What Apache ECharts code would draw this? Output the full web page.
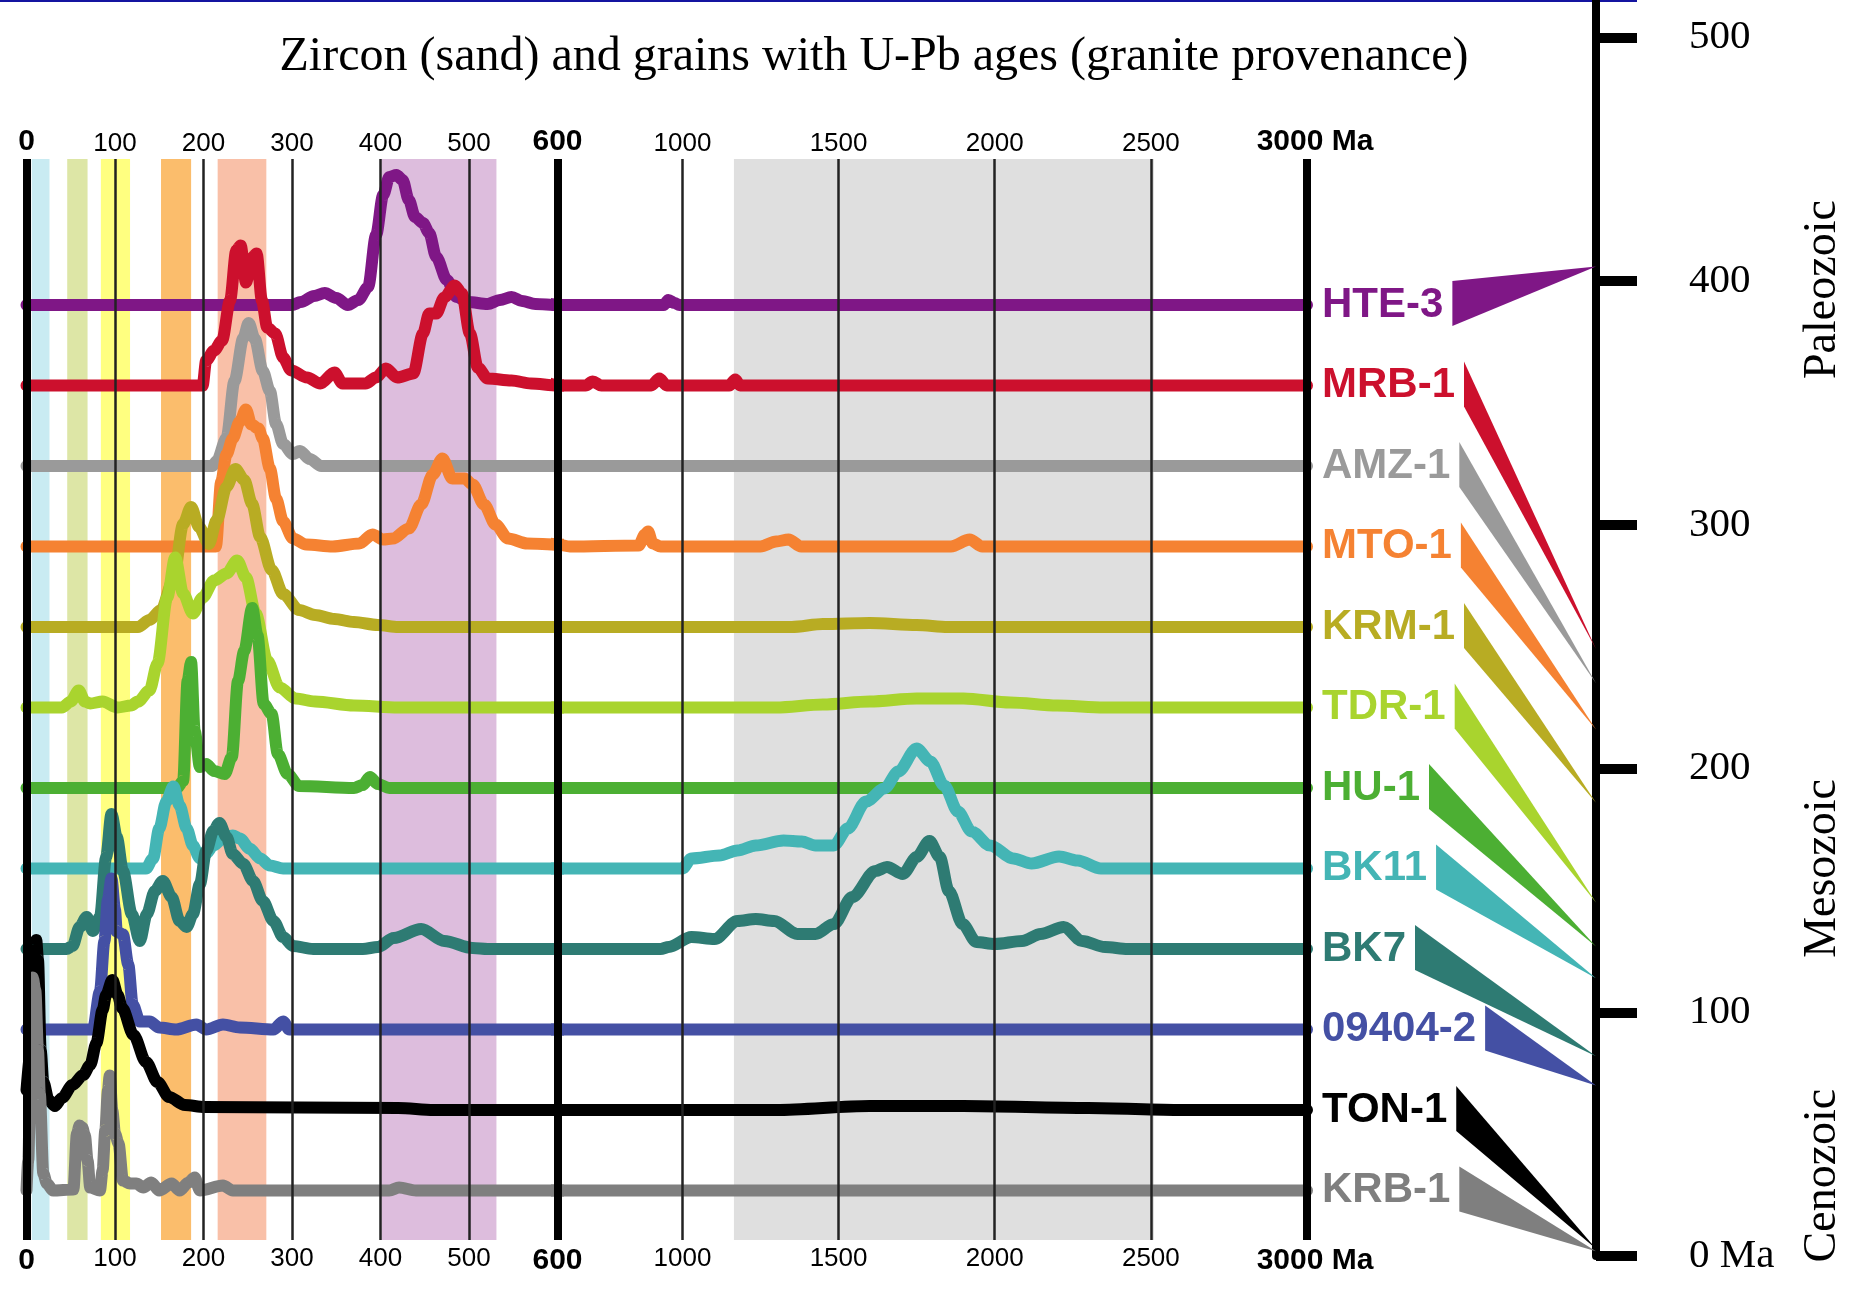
<!DOCTYPE html>
<html><head><meta charset="utf-8">
<script src="https://cdn.jsdelivr.net/npm/echarts@6/dist/echarts.min.js"></script>
<style>html,body{margin:0;padding:0;background:#fff}#c{width:1865px;height:1289px}</style>
</head><body><div id="c"></div>
<script>
// ---------------- DATA ----------------
const TITLE = 'Zircon (sand) and grains with U-Pb ages (granite provenance)';
const SAMPLES = ['HTE-3','MRB-1','AMZ-1','MTO-1','KRM-1','TDR-1','HU-1','BK11','BK7','09404-2','TON-1','KRB-1'];
const COLORS = ['#7f1786','#cc102d','#9a9a9a','#f58232','#b8ac23','#a9d42e','#4caf33','#44b5b5','#2e7b73','#4450a4','#000000','#7f7f7f'];
// youngest (maximum depositional) age each wedge points to, Ma
const MAX_DEP_AGE = [406,249,235,216,186,145,127,114,82,70,3,2];
// age-probability curves: [age Ma, relative height]
const HTE_3 = [[0,0],[300,0],[310,3],[325,9],[337,12],[350,7],[363,0],[375,5],[386,18],[395,70],[403,110],[410,128],[418,130],[425,125],[432,105],[439,88],[448,82],[455,72],[463,48],[475,25],[486,8],[499,3],[521,1],[535,5],[548,8],[560,4],[575,1],[600,0],[940,0],[955,5],[975,2],[990,0],[3000,0]];
const MRB_1 = [[0,0],[199,0],[203,25],[212,35],[221,45],[230,85],[237,135],[242,140],[248,103],[255,128],[260,132],[266,85],[272,58],[281,52],[290,28],[299,15],[317,8],[332,2],[348,13],[357,2],[383,2],[395,8],[406,17],[419,8],[437,12],[448,52],[455,72],[463,72],[472,88],[484,100],[492,92],[501,52],[510,18],[521,7],[548,5],[570,2],[600,0],[690,0],[713,4],[740,0],[900,0],[926,7],[950,0],[1150,0],[1169,6],[1185,0],[3000,0]];
const AMZ_1 = [[0,0],[210,0],[215,5],[226,28],[235,85],[245,128],[251,143],[258,127],[267,95],[275,75],[282,42],[290,22],[301,12],[309,15],[320,7],[333,0],[3000,0]];
const MTO_1 = [[0,0],[214,0],[220,65],[226,92],[233,108],[241,125],[248,137],[254,122],[262,118],[267,108],[275,78],[282,48],[290,25],[301,8],[316,2],[346,0],[376,3],[391,12],[403,7],[414,8],[432,18],[446,42],[459,72],[470,88],[481,68],[495,68],[504,62],[517,42],[530,22],[544,8],[566,3],[600,2],[640,0],[860,1],[880,12],[890,15],[905,3],[930,0],[1250,0],[1300,5],[1340,7],[1380,0],[1860,0],[1920,7],[1960,0],[3000,0]];
const KRM_1 = [[0,0],[126,0],[139,7],[152,17],[166,47],[177,103],[186,120],[195,100],[206,83],[215,107],[226,140],[236,158],[246,147],[255,123],[264,90],[277,57],[290,33],[308,17],[326,12],[348,8],[370,5],[397,2],[420,0],[1350,0],[1450,3],[1600,4],[1750,2],[1850,0],[3000,0]];
const TDR_1 = [[0,0],[40,0],[50,6],[59,17],[66,6],[72,4],[86,6],[103,0],[118,2],[126,6],[139,17],[148,44],[159,110],[168,150],[177,114],[188,94],[199,110],[212,127],[226,134],[238,147],[248,130],[259,94],[272,47],[286,20],[304,9],[326,6],[370,2],[420,0],[1300,0],[1450,3],[1600,6],[1750,9],[1900,9],[2050,5],[2200,2],[2350,0],[3000,0]];
const HU_1 = [[0,0],[170,0],[177,7],[182,107],[186,126],[190,57],[196,21],[203,24],[212,17],[224,14],[232,31],[239,107],[246,137],[255,180],[261,153],[268,84],[277,74],[284,34],[295,14],[308,2],[370,0],[380,3],[388,11],[397,4],[410,0],[3000,0]];
const BK11 = [[0,0],[135,0],[143,10],[150,40],[158,67],[166,82],[173,63],[181,40],[188,23],[196,10],[203,15],[211,23],[222,30],[233,33],[241,30],[252,20],[264,10],[275,3],[290,0],[1000,0],[1029,10],[1118,13],[1176,18],[1235,23],[1324,28],[1382,27],[1426,23],[1485,23],[1529,40],[1588,67],[1647,80],[1691,97],[1750,120],[1794,107],[1838,83],[1882,57],[1926,37],[1985,23],[2059,10],[2118,5],[2206,12],[2265,8],[2340,0],[3000,0]];
const BK7 = [[0,0],[45,0],[52,3],[60,22],[68,32],[75,18],[83,32],[90,92],[96,135],[102,112],[109,78],[119,35],[128,8],[136,35],[145,58],[154,68],[164,52],[173,28],[181,22],[188,35],[196,65],[203,98],[211,118],[218,126],[226,112],[233,95],[245,85],[256,68],[267,48],[279,28],[290,12],[301,3],[324,0],[380,0],[397,2],[415,11],[446,20],[472,8],[504,1],[521,0],[930,0],[956,2],[1029,12],[1103,10],[1176,28],[1235,30],[1294,28],[1368,15],[1426,15],[1485,25],[1544,52],[1618,78],[1655,82],[1706,75],[1750,92],[1791,108],[1824,92],[1853,58],[1897,25],[1941,7],[2000,5],[2088,8],[2147,15],[2221,22],[2280,8],[2353,2],[2426,0],[3000,0]];
const S_09404_2 = [[0,0],[75,0],[83,38],[88,88],[92,130],[96,151],[100,120],[102,98],[109,95],[115,65],[120,25],[128,8],[139,8],[150,2],[169,0],[192,5],[203,0],[222,5],[241,2],[279,0],[290,8],[297,0],[3000,0]];
const TON_1 = [[0,20],[5,60],[9,160],[11,170],[13,150],[16,60],[19,28],[25,10],[32,4],[40,12],[52,25],[64,35],[72,45],[79,67],[86,100],[90,115],[97,130],[103,115],[108,102],[121,75],[135,48],[148,28],[161,13],[179,5],[201,3],[420,2],[460,0],[1300,0],[1600,4],[1900,4],[2300,2],[2600,0],[3000,0]];
const KRB_1 = [[0,0],[2,30],[5,150],[7,213],[10,200],[13,140],[15,97],[19,17],[23,7],[30,0],[53,1],[57,57],[60,65],[63,63],[66,55],[69,30],[72,3],[83,0],[86,20],[89,60],[92,100],[94,115],[97,80],[100,57],[104,47],[109,10],[117,7],[124,7],[132,3],[141,8],[150,0],[164,7],[173,0],[183,8],[190,13],[196,0],[222,5],[233,0],[410,0],[421,3],[440,0],[3000,0]];
const CURVES = [HTE_3, MRB_1, AMZ_1, MTO_1, KRM_1, TDR_1, HU_1, BK11, BK7, S_09404_2, TON_1, KRB_1];
const STACK_STEP = 80.5;
// highlighted age bands (Ma)
const BAND_START = [6, 46, 84, 152, 216, 401, 1165];
const BAND_END   = [26, 69, 117, 186, 271, 531, 2510];
const BAND_COLOR = ['#c9ebf2','#dde6a6','#ffff80','#fbbd6c','#f9c0a8','#ddbddd','#dfdfdf'];
const GRID_LINES = [0,100,200,300,400,500,600,1000,1500,2000,2500,3000];
const MAJOR_LINES = [0,600,3000];
const AXIS_BREAK = 600;
const AGE_MAX = 3000;
const ERA_NAMES = ['Cenozoic','Mesozoic','Paleozoic'];
const ERA_START = [0,66,252];
const ERA_END = [66,252,541];

// ---------------- CHART ----------------
const chart = echarts.init(document.getElementById('c'), null, {renderer:'canvas', width:1865, height:1289});
const SANS = '"Liberation Sans", Arial, sans-serif';
const SERIF = '"Liberation Serif", "Times New Roman", serif';
const N = SAMPLES.length;
const Y_MIN = -49.5, Y_MAX = 1031.5;
const LABEL_DIST = 15, LABEL_SIZE = 42, WEDGE_GAP = 9, WEDGE_UP = 24, WEDGE_DOWN = 21;

function tickFmt(v){
  if (v === 0 || v === AXIS_BREAK) return '{b|' + v + '}';
  if (v === AGE_MAX) return '{m|' + v + ' Ma}';
  if (v > AXIS_BREAK && v % 500 !== 0) return '';
  return String(v);
}
const richLbl = {
  b: {fontFamily: SANS, fontWeight: 'bold', fontSize: 30, color: '#000'},
  m: {fontFamily: SANS, fontWeight: 'bold', fontSize: 30, color: '#000', padding: [0,0,0,16]}
};
function xAx(grid, pos, min, max, fmt){
  return {type:'value', gridIndex: grid, position: pos, min: min, max: max, interval: 100,
    axisLine:{show:false}, axisTick:{show:false}, splitLine:{show:false},
    axisLabel:{show:true, interval:0, hideOverlap:false, margin: pos==='top'?2:6, fontFamily: SANS, fontSize: 26, color:'#000', formatter: fmt, rich: richLbl}};
}
const fmtA = v => tickFmt(v);
const fmtB = v => (v === AXIS_BREAK ? '' : tickFmt(v));

const series = [];
// background age bands
function bandData(lo, hi){
  const out = [];
  for (let i = 0; i < BAND_START.length; i++){
    if (BAND_START[i] >= lo && BAND_END[i] <= hi) out.push([{xAxis: BAND_START[i], itemStyle:{color: BAND_COLOR[i], opacity: 1}}, {xAxis: BAND_END[i]}]);
  }
  return out;
}
function lineData(lo, hi){
  return GRID_LINES.filter(v => v >= lo && v <= hi && !(lo === AXIS_BREAK && v === AXIS_BREAK)).map(v => ({
    xAxis: v,
    lineStyle: {type:'solid', width: MAJOR_LINES.includes(v) ? 8 : 2.5, color: MAJOR_LINES.includes(v) ? '#000' : '#222'}
  }));
}
[[0,1,0,0,AXIS_BREAK],[1,3,1,AXIS_BREAK,AGE_MAX]].forEach(([g, xi, yi, lo, hi]) => {
  series.push({type:'line', xAxisIndex: xi, yAxisIndex: yi, data: [], silent: true, z: 0, clip: false,
    markArea: {silent: true, data: bandData(lo, hi)}});
  series.push({type:'line', xAxisIndex: xi, yAxisIndex: yi, data: [], silent: true, z: 1, clip: false,
    markLine: {silent: true, symbol: ['none','none'], label:{show:false}, data: lineData(lo, hi)}});
});
// curves (top sample first so lower ones draw above)
for (let i = 0; i < N; i++){
  const data = CURVES[i].map(p => [p[0], (N - 1 - i) * STACK_STEP + p[1]]);
  [[1,0],[3,1]].forEach(([xi, yi], k) => {
    const s = {type:'line', name: SAMPLES[i], xAxisIndex: xi, yAxisIndex: yi, data: data, z: 3 + i * 0.01,
      showSymbol: false, symbol: 'none', smooth: 0.3, smoothMonotone: 'x', clip: true, silent: true,
      lineStyle: {color: COLORS[i], width: 12, cap: 'round', join: 'round'}};
    if (k === 1) s.endLabel = {show: true, distance: LABEL_DIST, formatter: p => p.seriesName,
      color: COLORS[i], fontFamily: SANS, fontWeight: 'bold', fontSize: LABEL_SIZE};
    series.push(s);
  });
}
// era names beside the time scale
series.push({type:'custom', xAxisIndex: 4, yAxisIndex: 2, silent: true, z: 5,
  data: ERA_NAMES.map((n, i) => [ERA_START[i], ERA_END[i], n]),
  renderItem: (params, api) => {
    const a = api.value(0), b = api.value(1);
    const p = api.coord([0, (a + b) / 2]);
    return {type:'text', x: p[0] + 227, y: p[1], rotation: Math.PI / 2,
      style: {text: ERA_NAMES[params.dataIndex], fontFamily: SERIF, fontSize: 46, fill: '#000', align: 'center', verticalAlign: 'middle'}};
  }});

const option = {
  animation: false,
  backgroundColor: '#fff',
  grid: [
    {left: 26.5, top: 159, width: 531, height: 1081},
    {left: 557.5, top: 159, width: 749.5, height: 1081},
    {left: 1596, top: 0, width: 200, height: 1256}
  ],
  xAxis: [
    xAx(0, 'top', 0, AXIS_BREAK, fmtA), xAx(0, 'bottom', 0, AXIS_BREAK, fmtA),
    xAx(1, 'top', AXIS_BREAK, AGE_MAX, fmtB), xAx(1, 'bottom', AXIS_BREAK, AGE_MAX, fmtB),
    {type:'value', gridIndex: 2, min: 0, max: 1, show: false}
  ],
  yAxis: [
    {type:'value', gridIndex: 0, min: Y_MIN, max: Y_MAX, show: false},
    {type:'value', gridIndex: 1, min: Y_MIN, max: Y_MAX, show: false},
    {type:'value', gridIndex: 2, min: 0, max: 515.3, interval: 100, position: 'left',
      axisLine: {show: true, lineStyle: {color: '#000', width: 8}},
      axisTick: {show: true, inside: true, length: 41, lineStyle: {color: '#000', width: 10}},
      splitLine: {show: false},
      axisLabel: {show: true, inside: true, margin: 93, fontFamily: SERIF, fontSize: 41, color: '#000',
        formatter: v => (v === 0 ? '0 Ma' : String(v))}}
  ],
  graphic: [
    {type:'line', shape:{x1: 0, y1: 1, x2: 1637, y2: 1}, style:{stroke:'#1414a0', lineWidth: 2}, silent: true},
    {type:'text', x: 874, y: 57, style:{text: TITLE, fontFamily: SERIF, fontSize: 48, fill: '#000', align: 'center', verticalAlign: 'middle', textAlign:'center', textVerticalAlign:'middle'}, silent: true}
  ],
  series: series
};
chart.setOption(option);

// wedges linking each sample label to its maximum depositional age on the time scale
const ctx = document.createElement('canvas').getContext('2d');
ctx.font = 'bold ' + LABEL_SIZE + 'px ' + SANS;
const labelStart = chart.convertToPixel({xAxisIndex: 3}, AGE_MAX) + LABEL_DIST;
const basePx = SAMPLES.map((s, i) => chart.convertToPixel({yAxisIndex: 0}, (N - 1 - i) * STACK_STEP));
const wedgeLeft = SAMPLES.map(s => labelStart + ctx.measureText(s).width + WEDGE_GAP);
series.push({type:'custom', xAxisIndex: 4, yAxisIndex: 2, silent: true, z: 4, clip: false,
  data: MAX_DEP_AGE.map((a, i) => [a, i]),
  renderItem: (params, api) => {
    const i = api.value(1);
    const tip = api.coord([0, api.value(0)]);
    return {type:'polygon', shape:{points:[[wedgeLeft[i], basePx[i] - WEDGE_UP], [tip[0], tip[1]], [wedgeLeft[i], basePx[i] + WEDGE_DOWN]]},
      style:{fill: COLORS[i]}};
  }});
chart.setOption({series: series});
</script></body></html>
